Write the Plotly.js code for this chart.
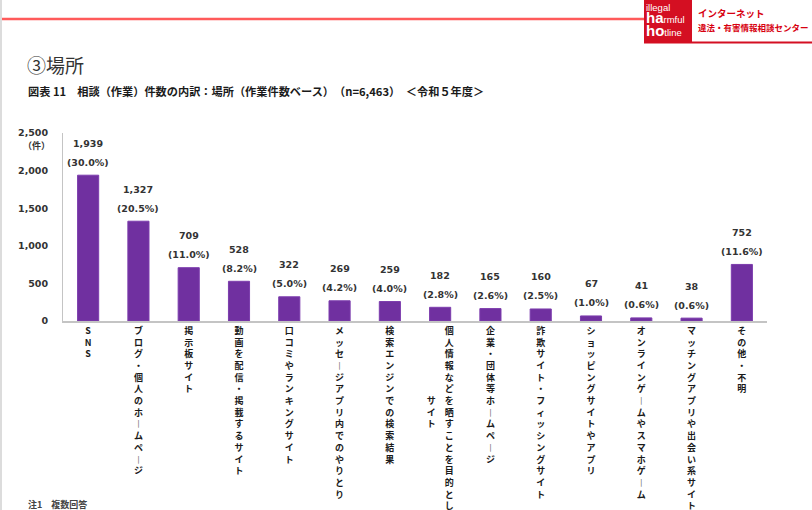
<!DOCTYPE html>
<html>
<head>
<meta charset="utf-8">
<script src="https://cdn.plot.ly/plotly-3.0.1.min.js"></script>
<style>
html,body{margin:0;padding:0;background:#fff;}
#chart{width:812px;height:510px;}
</style>
</head>
<body>
<div id="chart"></div>
<script>
// ---- data ----
const categories = [
  'SNS',
  'ブログ・個人のホームページ',
  '掲示板サイト',
  '動画を配信・掲載するサイト',
  '口コミやランキングサイト',
  'メッセージアプリ内でのやりとり',
  '検索エンジンでの検索結果',
  '個人情報などを晒すことを目的としたサイト',
  '企業・団体等ホームページ',
  '詐欺サイト・フィッシングサイト',
  'ショッピングサイトやアプリ',
  'オンラインゲームやスマホゲーム',
  'マッチングアプリや出会い系サイト',
  'その他・不明'
];
const counts = [1939, 1327, 709, 528, 322, 269, 259, 182, 165, 160, 67, 41, 38, 752];
const percents = ['30.0', '20.5', '11.0', '8.2', '5.0', '4.2', '4.0', '2.8', '2.6', '2.5', '1.0', '0.6', '0.6', '11.6'];
const yTickVals = [0, 500, 1000, 1500, 2000, 2500];
const yTickText = ['0', '500', '1,000', '1,500', '2,000', '2,500'];

// ---- layout helpers ----
const W = 812, H = 510;
const M = {l: 63, r: 45, t: 133, b: 189};
const PW = W - M.l - M.r, PH = H - M.t - M.b;
const px = x => (x - M.l) / PW;
const py = y => (H - M.b - y) / PH;

// vertical (top-to-bottom, right-to-left columns) label
function vertical(name, maxRows) {
  const chars = Array.from(name).map(c => c === 'ー' ? '\uFE31' : c);
  const cols = [];
  for (let i = 0; i < chars.length; i += maxRows) cols.push(chars.slice(i, i + maxRows));
  if (cols.length === 1) return cols[0].join('<br>');
  const main = cols[0], second = cols[1];
  const off = Math.max(0, Math.floor((main.length - second.length) / 2) - 1);
  const lines = main.map((c, r) => {
    const s = second[r - off];
    return (s ? s : '\u3000') + '\u3000' + c;
  });
  return lines.join('<br>');
}
const tickText = categories.map(c => vertical(c, 17));

const numFont = 'DejaVu Sans, Verdana, sans-serif';
const jpFont = 'Noto Sans CJK JP, sans-serif';
const logoFont = 'Liberation Sans, Arial, sans-serif';

const trace = {
  type: 'bar',
  x: categories,
  y: counts,
  marker: {color: '#7030A0', line: {color: '#7c3cad', width: 1}},
  hoverinfo: 'x+y'
};

const annotations = [];
categories.forEach((c, i) => {
  annotations.push({x: c, y: counts[i], xref: 'x', yref: 'y', text: counts[i].toLocaleString('en-US'),
    showarrow: false, yanchor: 'middle', yshift: 32,
    font: {family: numFont, size: 9.5, color: '#333', weight: 'bold'}});
  annotations.push({x: c, y: counts[i], xref: 'x', yref: 'y', text: '(' + percents[i] + '%)',
    showarrow: false, yanchor: 'middle', yshift: 13,
    font: {family: numFont, size: 9.5, color: '#333', weight: 'bold'}});
});

// titles & decorations
const note = (x, y, text, font, anchor, yanchor) => ({xref: 'paper', yref: 'paper', x: px(x), y: py(y),
  xanchor: anchor || 'left', yanchor: yanchor || 'middle', showarrow: false, borderpad: 0, align: 'left',
  text: text, font: font});
const big = s => '<span style="font-size:15px;font-weight:bold">' + s + '</span>';
annotations.push(
  note(26, 64, '③場所', {family: jpFont, size: 19, color: '#333'}),
  note(27, 91, '図表 11　相談（作業）件数の内訳：場所（作業件数ベース）　（n=6,463）　＜令和５年度＞',
       {family: jpFont, size: 11.2, color: '#1a1a1a', weight: 'bold'}),
  note(36, 145, '（件）', {family: jpFont, size: 9, color: '#333', weight: 'bold'}, 'center'),
  note(27, 504, '注1　複数回答', {family: jpFont, size: 9, color: '#444', weight: 'bold'}),
  // logo text
  note(645, 1, 'illegal<br>' + big('ha') + 'rmful<br>' + big('ho') + 'tline',
       {family: logoFont, size: 9.5, color: '#fff'}, 'left', 'top'),
  note(697, 13, 'インターネット', {family: jpFont, size: 9.5, color: '#d7000f', weight: 'bold'}),
  note(697, 27, '違法・有害情報相談センター', {family: jpFont, size: 8.5, color: '#d7000f', weight: 'bold'})
);

const shapes = [
  {type: 'line', xref: 'paper', yref: 'paper', x0: px(0), x1: px(644), y0: py(19), y1: py(19),
   line: {color: '#ff5a5a', width: 2.5}},
  {type: 'rect', xref: 'paper', yref: 'paper', x0: px(644), x1: px(692), y0: py(0), y1: py(42),
   fillcolor: '#d40f22', line: {width: 0}},
  {type: 'line', xref: 'paper', yref: 'paper', x0: px(644), x1: px(812), y0: py(42.5), y1: py(42.5),
   line: {color: '#d40f22', width: 2}},
  {type: 'line', xref: 'paper', yref: 'paper', x0: px(1), x1: px(1), y0: py(0), y1: py(510),
   line: {color: '#dcdcdc', width: 2}}
];

const layout = {
  width: W, height: H,
  margin: M,
  paper_bgcolor: '#fff', plot_bgcolor: '#fff',
  showlegend: false,
  bargap: 0.58,
  xaxis: {
    type: 'category',
    tickmode: 'array', tickvals: categories, ticktext: tickText,
    tickangle: 0,
    showline: true, linecolor: '#c4c4c4', linewidth: 2,
    showgrid: false, zeroline: false, ticks: '',
    tickfont: {family: jpFont, size: 9, color: '#1a1a1a', weight: 'bold'},
    fixedrange: true
  },
  yaxis: {
    range: [0, 2500],
    tickmode: 'array', tickvals: yTickVals, ticktext: yTickText,
    showline: true, linecolor: '#c4c4c4', linewidth: 1,
    showgrid: false, zeroline: false, ticks: '',
    ticklabelstandoff: 12,
    tickfont: {family: numFont, size: 9.5, color: '#333', weight: 'bold'},
    fixedrange: true
  },
  annotations: annotations,
  shapes: shapes
};

Plotly.newPlot('chart', [trace], layout, {displayModeBar: false, staticPlot: true});
</script>
</body>
</html>
